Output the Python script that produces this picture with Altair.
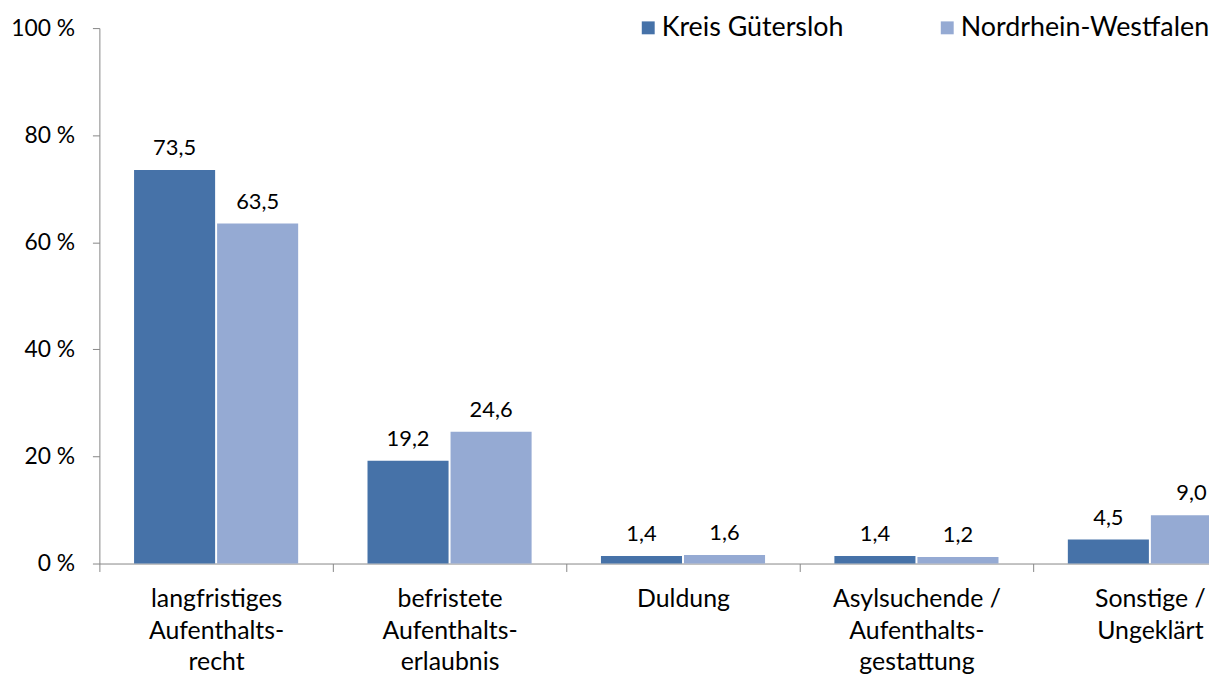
import altair as alt
import pandas as pd

categories = ["langfristiges|Aufenthalts-|recht", "befristete|Aufenthalts-|erlaubnis", "Duldung",
              "Asylsuchende /|Aufenthalts-|gestattung", "Sonstige /|Ungeklärt"]
series = ["Kreis Gütersloh", "Nordrhein-Westfalen"]
kreis = [73.5, 19.2, 1.4, 1.4, 4.5]
nrw = [63.5, 24.6, 1.6, 1.2, 9.0]
colors = ["#4672A8", "#95AAD3"]
y_ticks = [0, 20, 40, 60, 80, 100]

rows = []
for c, a, b in zip(categories, kreis, nrw):
    rows.append({"cat": c, "series": series[0], "value": a})
    rows.append({"cat": c, "series": series[1], "value": b})
df = pd.DataFrame(rows)
df["label"] = df["value"].map(lambda v: f"{v:.1f}".replace(".", ","))

FONT = "Lato"
AXC = "#868686"

x = alt.X("cat:N", sort=categories, title=None,
          scale=alt.Scale(domain=categories, range=[0, 1175], paddingInner=0, paddingOuter=0),
          axis=alt.Axis(labelAngle=0, labelExpr="split(datum.label, '|')", tickBand="extent",
                        domainColor=AXC, tickColor=AXC, tickSize=8, labelPadding=15,
                        labelFont=FONT, labelFontSize=25, labelColor="black", labelLineHeight=32,
                        labelBaseline="top"))
xo = alt.XOffset("series:N", sort=series,
                 scale=alt.Scale(domain=series, paddingInner=0.024, paddingOuter=0.4175))
y = alt.Y("value:Q", title=None, scale=alt.Scale(domain=[0, 100], nice=False),
          axis=alt.Axis(values=y_ticks, labelExpr="datum.value + ' %'", grid=False,
                        domainColor=AXC, tickColor=AXC, tickSize=7, labelPadding=18,
                        labelFont=FONT, labelFontSize=23, labelColor="black"))

bars = alt.Chart(df).mark_bar().encode(
    x=x, xOffset=xo, y=y,
    color=alt.Color("series:N", sort=series, scale=alt.Scale(domain=series, range=colors),
                    legend=alt.Legend(title=None, orient="none", legendX=539, legendY=-14,
                                      direction="horizontal", symbolType="square", symbolSize=169,
                                      symbolStrokeWidth=0, labelFont=FONT, labelFontSize=27,
                                      labelColor="black", labelOffset=0, columnPadding=90,
                                      labelLimit=400))
)
text = alt.Chart(df).mark_text(dy=-15, baseline="alphabetic", font=FONT, fontSize=22, color="black").encode(
    x=x, xOffset=xo, y=y, text="label:N"
)

chart = alt.layer(bars, text).properties(
    width=1117, height=539, autosize="none",
    padding={"left": 92, "top": 18, "right": 0, "bottom": 112}
).configure_view(stroke=None)

chart.save("out.html", embed_options={"renderer": "svg", "actions": False})
